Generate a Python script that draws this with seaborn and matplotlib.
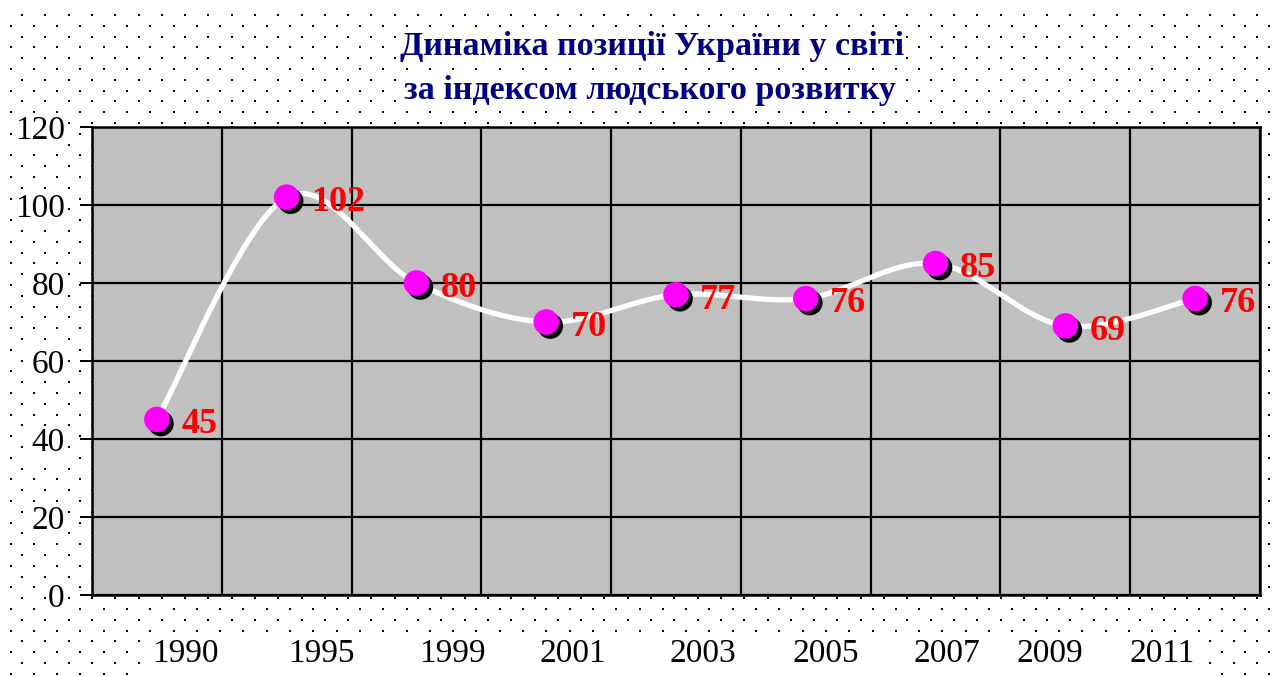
import numpy as np
import matplotlib
matplotlib.use("Agg")
import matplotlib.pyplot as plt
import matplotlib.transforms as mtransforms
import seaborn as sns

# ---------------- data ----------------
years = ["1990", "1995", "1999", "2001", "2003", "2005", "2007", "2009", "2011"]
ranks = [45, 102, 80, 70, 77, 76, 85, 69, 76]
y_ticks = [0, 20, 40, 60, 80, 100, 120]
title_lines = ["Динаміка позиції України у світі", "за індексом людського розвитку"]

# ---------------- style ----------------
W, H, DPI = 1272, 677, 100
label_shift_px = [28, 35, 36, 27, 27, 20, 11, -16, -33]  # x tick label nudges

sns.set_theme(style="white")
plt.rcParams['font.family'] = ['Liberation Serif', 'DejaVu Serif']

fig = plt.figure(figsize=(W / DPI, H / DPI), dpi=DPI, facecolor='white')

# dotted background texture
pat = np.ones((H, W, 3))
row, yy = 0, 14.0
while yy < H - 1:
    x0 = 21.0 if row % 2 == 0 else 9.5
    for xx in np.arange(x0, W - 1, 23.3):
        xi, yi = int(round(xx)), int(round(yy))
        pat[yi:yi + 2, xi:xi + 2] = 0
    yy += 10.8
    row += 1
pat[633:, 145:1205] = 1
fig.figimage(pat, xo=0, yo=0, origin='upper', zorder=-10)

ax = fig.add_axes([92 / W, 1 - 595 / H, (1260 - 92) / W, (595 - 127) / H])
ax.set_facecolor('#C0C0C0')
n = len(years)
xpos = np.arange(n)

# smoothed line (Catmull-Rom style bezier through the data points)
P = np.column_stack([xpos, ranks]).astype(float)
Pext = np.vstack([P[0], P, P[-1]])
tt = np.linspace(0, 1, 40)
sx, sy = [], []
for i in range(n - 1):
    p0, p1, p2, p3 = Pext[i], Pext[i + 1], Pext[i + 2], Pext[i + 3]
    c1 = p1 + (p2 - p0) / 6.0
    c2 = p2 - (p3 - p1) / 6.0
    b = (np.outer((1 - tt) ** 3, p1) + np.outer(3 * (1 - tt) ** 2 * tt, c1)
         + np.outer(3 * (1 - tt) * tt ** 2, c2) + np.outer(tt ** 3, p2))
    sx.extend(b[:, 0]); sy.extend(b[:, 1])
sns.lineplot(x=sx, y=sy, sort=False, estimator=None, color='white', lw=3.8,
             ax=ax, zorder=3)

shadow = ax.transData + mtransforms.ScaledTranslation(4 / DPI, -4 / DPI, fig.dpi_scale_trans)
ax.scatter(xpos, ranks, s=340, color='black', edgecolors='none', transform=shadow, zorder=4)
sns.scatterplot(x=xpos, y=ranks, s=340, color='#FF00FF', edgecolor='none', ax=ax, zorder=5)

for xi, v in zip(xpos, ranks):
    ax.annotate(str(v), (xi, v), xytext=(17.5, -10), textcoords='offset points',
                color='red', fontsize=26, fontweight='bold', ha='left', va='baseline',
                zorder=6)

ax.set_xlim(-0.5, n - 0.5)
ax.set_ylim(0, 120)
ax.set_yticks(y_ticks)
ax.set_yticklabels([str(t) for t in y_ticks])
ax.set_xticks(np.arange(n + 1) - 0.5)
ax.set_xticklabels([])
ax.set_xticks(xpos, minor=True)
ax.set_xticklabels(years, minor=True)
ax.grid(True, which='major', color='black', lw=1.6)
ax.set_axisbelow(True)
for sp in ax.spines.values():
    sp.set_visible(True)
    sp.set_color('black')
    sp.set_linewidth(1.8)
ax.tick_params(axis='y', length=8.6, width=1.4, color='black', direction='out',
               pad=11, labelsize=24, labelcolor='black', left=True)
ax.tick_params(axis='x', which='both', length=0, pad=31, labelsize=24, labelcolor='black')
for lab in ax.get_yticklabels():
    lab.set_bbox(dict(facecolor='white', edgecolor='none', pad=1))
for lab, dx in zip(ax.get_xticklabels(minor=True), label_shift_px):
    lab.set_transform(lab.get_transform() + mtransforms.ScaledTranslation(dx / DPI, 0, fig.dpi_scale_trans))
ax.set_xlabel('')
ax.set_ylabel('')

fig.text(652 / W, 1 - 47 / H, title_lines[0], ha='center', va='center', color='#000080',
         fontsize=24.5, fontweight='bold',
         bbox=dict(facecolor='white', edgecolor='none', pad=1))
fig.text(650 / W, 1 - 90 / H, title_lines[1], ha='center', va='center', color='#000080',
         fontsize=24.5, fontweight='bold',
         bbox=dict(facecolor='white', edgecolor='none', pad=1))

fig.savefig("out.png", dpi=DPI, facecolor='white')
